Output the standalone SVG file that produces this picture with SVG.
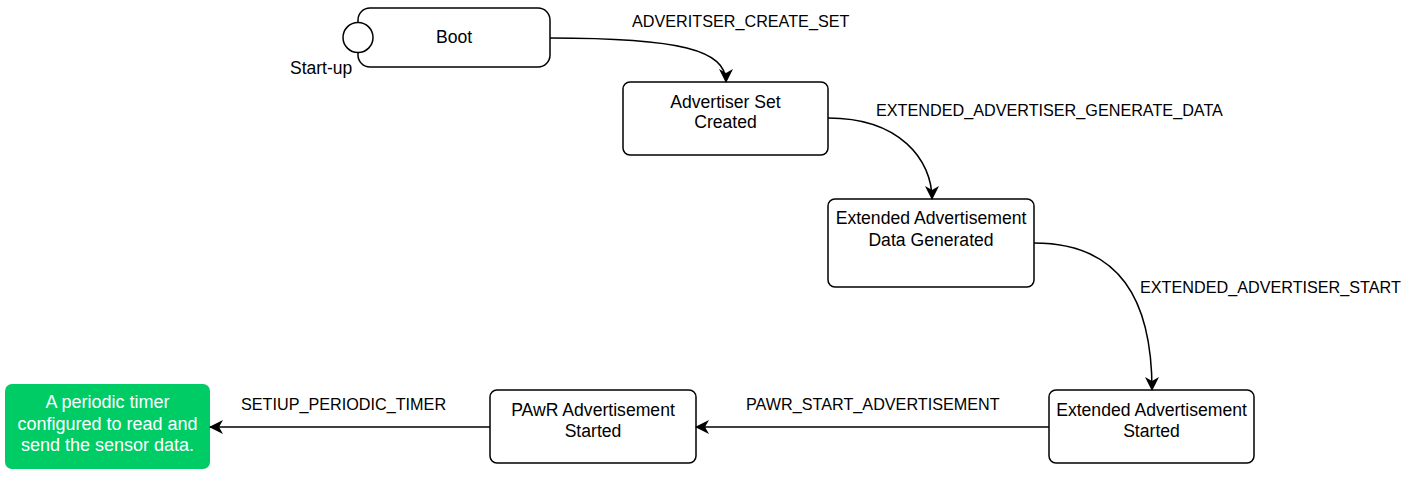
<svg xmlns="http://www.w3.org/2000/svg" width="1416" height="483" viewBox="0 0 1416 483">
<style>
.box{fill:#fff;stroke:#000;stroke-width:1.5}
.t{font-family:"Liberation Sans",Arial,sans-serif;font-size:17.6px;fill:#000;text-anchor:middle}
.lbl{font-family:"Liberation Sans",Arial,sans-serif;font-size:16.2px;fill:#000}
.w{fill:#fff;font-size:18px}
.edge{fill:none;stroke:#000;stroke-width:1.5}
</style>
<defs>
<marker id="arr" markerWidth="14" markerHeight="14" viewBox="0 0 14 14" refX="13" refY="7" orient="auto" markerUnits="userSpaceOnUse">
<path d="M0,0 L14,7 L0,14 L4,7 z" fill="#000"/>
</marker>
</defs>
<g id="boot">
<rect class="box" x="358" y="8" width="192" height="59" rx="12"/>
<text class="t" x="454" y="43">Boot</text>
</g>
<g id="startup">
<circle class="box" cx="358" cy="37.5" r="15"/>
<text class="lbl" x="290" y="74" style="font-size:17.5px">Start-up</text>
</g>
<g id="adv-set">
<rect class="box" x="623" y="82" width="205" height="73" rx="7"/>
<text class="t" x="725.5" y="108">Advertiser Set</text>
<text class="t" x="725.5" y="128">Created</text>
</g>
<g id="ext-data">
<rect class="box" x="828" y="199" width="206" height="88" rx="7"/>
<text class="t" x="931" y="224">Extended Advertisement</text>
<text class="t" x="931" y="246">Data Generated</text>
</g>
<g id="ext-started">
<rect class="box" x="1049" y="390" width="205" height="73" rx="7"/>
<text class="t" x="1151.5" y="416">Extended Advertisement</text>
<text class="t" x="1151.5" y="437">Started</text>
</g>
<g id="pawr-started">
<rect class="box" x="490" y="390" width="206" height="73" rx="7"/>
<text class="t" x="593" y="416">PAwR Advertisement</text>
<text class="t" x="593" y="437">Started</text>
</g>
<g id="timer">
<rect x="5" y="384" width="205" height="85" rx="7" fill="#00cc66"/>
<text class="t w" x="107.5" y="408">A periodic timer</text>
<text class="t w" x="107.5" y="430">configured to read and</text>
<text class="t w" x="107.5" y="451">send the sensor data.</text>
</g>
<g id="connectors">
<path class="edge" marker-end="url(#arr)" d="M550,38 C680,38 726,50 726,82"/>
<text class="lbl" x="632" y="27">ADVERITSER_CREATE_SET</text>
<path class="edge" marker-end="url(#arr)" d="M828,118 C900,118 932,160 932,199"/>
<text class="lbl" x="876" y="116">EXTENDED_ADVERTISER_GENERATE_DATA</text>
<path class="edge" marker-end="url(#arr)" d="M1034,243 C1120,243 1152,300 1152,390"/>
<text class="lbl" x="1140" y="293">EXTENDED_ADVERTISER_START</text>
<path class="edge" marker-end="url(#arr)" d="M1049,427 L696,427"/>
<text class="lbl" x="746" y="410">PAWR_START_ADVERTISEMENT</text>
<path class="edge" marker-end="url(#arr)" d="M490,427 L210,427"/>
<text class="lbl" x="241" y="410">SETIUP_PERIODIC_TIMER</text>
</g>
</svg>
